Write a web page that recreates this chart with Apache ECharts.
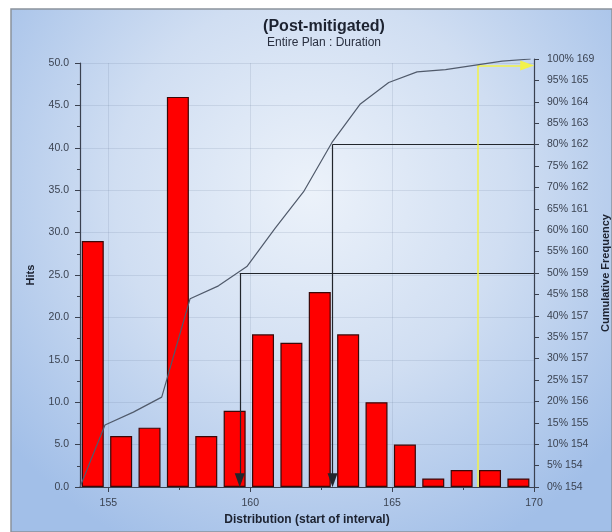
<!DOCTYPE html>
<html>
<head>
<meta charset="utf-8">
<script src="https://cdn.jsdelivr.net/npm/echarts@6/dist/echarts.min.js"></script>
<style>
  html, body { margin: 0; padding: 0; background: #fff; }
  #chart { width: 612px; height: 532px; }
</style>
</head>
<body>
<div id="chart"></div>
<script>
// histogram: interval start -> hits
const intervalStarts = [154, 155, 156, 157, 158, 159, 160, 161, 162, 163, 164, 165, 166, 167, 168, 169];
const hits = [29, 6, 7, 46, 6, 9, 18, 17, 23, 18, 10, 5, 1, 2, 2, 1];

// cumulative frequency (%) at the end of each interval, first point is the origin
const cumPct = [0, 14.5, 17.5, 21, 44, 47, 51.5, 60.5, 69, 80.5, 89.5, 94.5, 97, 97.5, 98.5, 99.5, 100];

// right axis: percent -> duration
const rightPct = [0, 5, 10, 15, 20, 25, 30, 35, 40, 45, 50, 55, 60, 65, 70, 75, 80, 85, 90, 95, 100];
const rightDur = [154, 154, 154, 155, 156, 157, 157, 157, 157, 158, 159, 160, 160, 161, 162, 162, 162, 163, 164, 165, 169];

const xLabelValues = [155, 160, 165, 170];
const xMinorTicks = [157.5, 162.5, 167.5];

// percentile markers (black) and the yellow one
const percentileMarks = [
  { pct: 50, at: 159.63 },
  { pct: 80, at: 162.9 }
];
const yellowMark = { pct: 98.5, at: 168 };

const font = 'Liberation Sans, Arial, sans-serif';
const labelColor = '#3b4352';
const axisColor = '#3a4150';
const gridLineColor = 'rgba(100,120,150,0.16)';

let barData = intervalStarts.map((s, i) => [s + 0.45, hits[i]]);
let cumData = cumPct.map((p, i) => [i === 0 ? intervalStarts[0] : intervalStarts[i - 1] + 0.88, p]);

// arrow heads are centred on the end point, so stop the line half a head short
let markData = [];
percentileMarks.forEach(m => {
  markData.push([
    { coord: [170, m.pct], symbol: 'none', lineStyle: { color: '#22262c', width: 1.2, type: 'solid' } },
    { coord: [m.at, m.pct], symbol: 'none' }
  ]);
  markData.push([
    { coord: [m.at, m.pct], symbol: 'none', lineStyle: { color: '#22262c', width: 1.2, type: 'solid' } },
    { coord: [m.at, 1.6], symbol: 'triangle', symbolSize: [10, 14], itemStyle: { color: '#111' } }
  ]);
});
markData.push([
  { coord: [yellowMark.at, 0], symbol: 'none', lineStyle: { color: '#f2f24a', width: 1.5, type: 'solid' } },
  { coord: [yellowMark.at, yellowMark.pct], symbol: 'none' }
]);
markData.push([
  { coord: [yellowMark.at, yellowMark.pct], symbol: 'none', lineStyle: { color: '#f2f24a', width: 1.5, type: 'solid' } },
  { coord: [169.76, yellowMark.pct], symbol: 'triangle', symbolSize: [10, 14], itemStyle: { color: '#f5f520' } }
]);

let chart = echarts.init(document.getElementById('chart'));

let option = {
  animation: false,
  backgroundColor: '#ffffff',
  textStyle: { fontFamily: font },
  graphic: [
    {
      type: 'rect', z: -100, silent: true,
      shape: { x: 11, y: 9, width: 601, height: 523 },
      style: {
        fill: new echarts.graphic.RadialGradient(0.5, 0.35, 0.75, [
          { offset: 0, color: '#ecf2fa' },
          { offset: 0.5, color: '#d0def2' },
          { offset: 1, color: '#a2bfe8' }
        ]),
        stroke: '#8b929c', lineWidth: 1.5
      }
    }
  ],
  title: {
    text: '(Post-mitigated)',
    subtext: 'Entire Plan : Duration',
    left: 319, top: 14, textAlign: 'center',
    itemGap: 2,
    textStyle: { fontFamily: font, fontSize: 16, fontWeight: 'bold', color: '#1c2230' },
    subtextStyle: { fontFamily: font, fontSize: 12, color: '#2a3040' }
  },
  grid: [
    { left: 80, right: 78, top: 63, bottom: 45, outerBoundsMode: 'none' },
    { left: 80, right: 78, top: 59, bottom: 45, outerBoundsMode: 'none' }
  ],
  xAxis: [
    {
      type: 'value', gridIndex: 0, min: 154, max: 170,
      name: 'Distribution (start of interval)',
      nameLocation: 'middle', nameGap: 27, nameMoveOverlap: false,
      nameTextStyle: { fontFamily: font, fontSize: 12, fontWeight: 'bold', color: '#1c2230' },
      axisLine: { show: true, onZero: false, lineStyle: { color: axisColor, width: 1.2 } },
      axisTick: { show: true, length: 5, customValues: xLabelValues, lineStyle: { color: axisColor } },
      axisLabel: { customValues: xLabelValues, margin: 11, fontSize: 10.5, color: labelColor, fontFamily: font },
      splitLine: { show: true, lineStyle: { color: gridLineColor, width: 1 } }
    },
    {
      type: 'value', gridIndex: 1, min: 154, max: 170,
      axisLine: { show: false },
      axisTick: { show: true, length: 3, customValues: xMinorTicks, lineStyle: { color: axisColor } },
      axisLabel: { show: false },
      splitLine: { show: false }
    }
  ],
  yAxis: [
    {
      type: 'value', gridIndex: 0, min: 0, max: 50, interval: 5,
      name: 'Hits', nameLocation: 'middle', nameGap: 44, nameRotate: 90, nameMoveOverlap: false,
      nameTextStyle: { fontFamily: font, fontSize: 11, fontWeight: 'bold', color: '#1c2230' },
      axisLine: { show: true, lineStyle: { color: axisColor, width: 1.2 } },
      axisTick: { show: true, length: 5, lineStyle: { color: axisColor } },
      minorTick: { show: true, splitNumber: 2, length: 3, lineStyle: { color: axisColor } },
      axisLabel: { margin: 11, fontSize: 10.5, color: labelColor, fontFamily: font, formatter: v => v.toFixed(1) },
      splitLine: { show: true, lineStyle: { color: gridLineColor, width: 1 } }
    },
    {
      type: 'value', gridIndex: 1, position: 'right', min: 0, max: 100, interval: 5,
      name: 'Cumulative Frequency', nameLocation: 'middle', nameGap: 66, nameRotate: 90, nameMoveOverlap: false,
      nameTextStyle: { fontFamily: font, fontSize: 11, fontWeight: 'bold', color: '#1c2230' },
      axisLine: { show: true, lineStyle: { color: axisColor, width: 1.2 } },
      axisTick: { show: true, length: 5, lineStyle: { color: axisColor } },
      axisLabel: {
        margin: 13, fontSize: 10.5, color: labelColor, fontFamily: font,
        formatter: v => v + '% ' + rightDur[rightPct.indexOf(v)]
      },
      splitLine: { show: false }
    }
  ],
  series: [
    {
      type: 'bar', xAxisIndex: 0, yAxisIndex: 0,
      data: barData, barWidth: 22,
      itemStyle: { color: '#ff0000', borderColor: '#3a0808', borderWidth: 1.2 },
      z: 2
    },
    {
      type: 'line', xAxisIndex: 1, yAxisIndex: 1,
      data: cumData, showSymbol: false, symbol: 'none',
      lineStyle: { color: '#505a6b', width: 1.2 },
      z: 5,
      markLine: {
        silent: true, animation: false,
        label: { show: false },
        emphasis: { disabled: true },
        data: markData
      }
    }
  ]
};

chart.setOption(option);
</script>
</body>
</html>
